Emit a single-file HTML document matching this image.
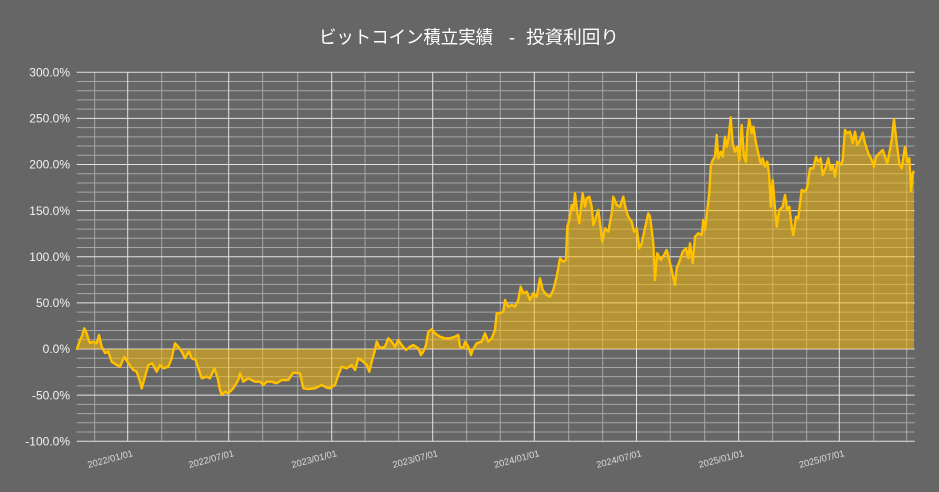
<!DOCTYPE html>
<html><head><meta charset="utf-8"><style>
html,body{margin:0;padding:0;background:#666666;}
svg{display:block;}
</style></head><body>
<svg width="939" height="492" viewBox="0 0 939 492" xmlns="http://www.w3.org/2000/svg">
<rect x="0" y="0" width="939" height="492" fill="#666666"/>
<g stroke="#a6a6a6" stroke-width="1">
<line x1="76.7" x2="914.7" y1="81.48" y2="81.48"/>
<line x1="76.7" x2="914.7" y1="90.70" y2="90.70"/>
<line x1="76.7" x2="914.7" y1="99.93" y2="99.93"/>
<line x1="76.7" x2="914.7" y1="109.15" y2="109.15"/>
<line x1="76.7" x2="914.7" y1="127.6" y2="127.6"/>
<line x1="76.7" x2="914.7" y1="136.83" y2="136.83"/>
<line x1="76.7" x2="914.7" y1="146.05" y2="146.05"/>
<line x1="76.7" x2="914.7" y1="155.28" y2="155.28"/>
<line x1="76.7" x2="914.7" y1="173.73" y2="173.73"/>
<line x1="76.7" x2="914.7" y1="182.95" y2="182.95"/>
<line x1="76.7" x2="914.7" y1="192.18" y2="192.18"/>
<line x1="76.7" x2="914.7" y1="201.4" y2="201.4"/>
<line x1="76.7" x2="914.7" y1="219.85" y2="219.85"/>
<line x1="76.7" x2="914.7" y1="229.08" y2="229.08"/>
<line x1="76.7" x2="914.7" y1="238.3" y2="238.3"/>
<line x1="76.7" x2="914.7" y1="247.53" y2="247.53"/>
<line x1="76.7" x2="914.7" y1="265.98" y2="265.98"/>
<line x1="76.7" x2="914.7" y1="275.2" y2="275.2"/>
<line x1="76.7" x2="914.7" y1="284.43" y2="284.43"/>
<line x1="76.7" x2="914.7" y1="293.65" y2="293.65"/>
<line x1="76.7" x2="914.7" y1="312.1" y2="312.1"/>
<line x1="76.7" x2="914.7" y1="321.33" y2="321.33"/>
<line x1="76.7" x2="914.7" y1="330.55" y2="330.55"/>
<line x1="76.7" x2="914.7" y1="339.78" y2="339.78"/>
<line x1="76.7" x2="914.7" y1="358.23" y2="358.23"/>
<line x1="76.7" x2="914.7" y1="367.45" y2="367.45"/>
<line x1="76.7" x2="914.7" y1="376.68" y2="376.68"/>
<line x1="76.7" x2="914.7" y1="385.9" y2="385.9"/>
<line x1="76.7" x2="914.7" y1="404.35" y2="404.35"/>
<line x1="76.7" x2="914.7" y1="413.58" y2="413.58"/>
<line x1="76.7" x2="914.7" y1="422.8" y2="422.8"/>
<line x1="76.7" x2="914.7" y1="432.03" y2="432.03"/>
<line y1="72.25" y2="441.25" x1="94.7" x2="94.7"/>
<line y1="72.25" y2="441.25" x1="161.7" x2="161.7"/>
<line y1="72.25" y2="441.25" x1="195.7" x2="195.7"/>
<line y1="72.25" y2="441.25" x1="262.7" x2="262.7"/>
<line y1="72.25" y2="441.25" x1="297.7" x2="297.7"/>
<line y1="72.25" y2="441.25" x1="365" x2="365"/>
<line y1="72.25" y2="441.25" x1="398.7" x2="398.7"/>
<line y1="72.25" y2="441.25" x1="466.7" x2="466.7"/>
<line y1="72.25" y2="441.25" x1="500.3" x2="500.3"/>
<line y1="72.25" y2="441.25" x1="568.7" x2="568.7"/>
<line y1="72.25" y2="441.25" x1="602.7" x2="602.7"/>
<line y1="72.25" y2="441.25" x1="670.3" x2="670.3"/>
<line y1="72.25" y2="441.25" x1="704.7" x2="704.7"/>
<line y1="72.25" y2="441.25" x1="772.7" x2="772.7"/>
<line y1="72.25" y2="441.25" x1="806.7" x2="806.7"/>
<line y1="72.25" y2="441.25" x1="873.7" x2="873.7"/>
<line y1="72.25" y2="441.25" x1="906.7" x2="906.7"/>
</g>
<g stroke="#e2e2e2" stroke-width="1">
<line y1="72.25" y2="441.25" x1="127.7" x2="127.7"/>
<line y1="72.25" y2="441.25" x1="228.7" x2="228.7"/>
<line y1="72.25" y2="441.25" x1="331.7" x2="331.7"/>
<line y1="72.25" y2="441.25" x1="432.7" x2="432.7"/>
<line y1="72.25" y2="441.25" x1="534.3" x2="534.3"/>
<line y1="72.25" y2="441.25" x1="636.5" x2="636.5"/>
<line y1="72.25" y2="441.25" x1="738.7" x2="738.7"/>
<line y1="72.25" y2="441.25" x1="839.3" x2="839.3"/>
<line x1="76.7" x2="914.7" y1="72.25" y2="72.25"/>
<line x1="76.7" x2="914.7" y1="118.38" y2="118.38"/>
<line x1="76.7" x2="914.7" y1="164.5" y2="164.5"/>
<line x1="76.7" x2="914.7" y1="210.63" y2="210.63"/>
<line x1="76.7" x2="914.7" y1="256.75" y2="256.75"/>
<line x1="76.7" x2="914.7" y1="302.88" y2="302.88"/>
<line x1="76.7" x2="914.7" y1="349" y2="349"/>
<line x1="76.7" x2="914.7" y1="395.13" y2="395.13"/>
<line x1="76.7" x2="914.7" y1="441.25" y2="441.25"/>
</g>
<polygon fill="#FFC000" fill-opacity="0.5" points="76.7,349 76.7,350 80,340 82,336 84.3,328.3 86.7,333.3 88,338 90,343 93.3,341.7 96.7,343.3 99,335 101.7,346.7 105,353 108.3,351.7 111.7,361.7 116.7,365 120,366.7 124.3,356.7 128.3,363.3 133.3,370 136.7,371.7 140,381.7 141.7,388.3 145,376.7 148.3,365 152.3,363.3 156.7,371.7 160,365 163.3,368.3 168.3,366.7 171.7,358.3 175,343.3 178.3,346.7 181.7,351.7 185,358.3 189,351.7 191.7,358.3 195.7,360 199,370 201.7,378.3 206.7,376.7 210,378.3 214.3,368.3 217.7,378.3 220,390 221.7,395 225,391.7 228.3,393.3 233.3,388.3 238.3,380 240,373.3 243.3,381.7 248.3,378.3 255,381.7 260,381.7 263.3,385 266.7,381.7 271.7,381.7 276.7,383.3 281.7,380 288.3,380 293.3,372.7 300,373.3 303.3,388.3 308.3,389 315,388.3 321.7,385 326.7,387.7 330,388.3 335,385 338.3,375 341.7,366.7 346.7,368.3 351.7,365 355,370 358.3,358.3 363.3,361.7 366.7,365 369.3,371.7 371.7,361.7 375,350 376.7,341.7 380,348.3 385,346.7 388.3,338.3 391.7,341.7 395,346.7 398.3,340 401.7,345 406,350 410,346.7 413.3,345 418.3,348.3 421,355 423.3,351.7 426,345 428.3,331.7 431.7,329.3 435,333.3 440,336.7 445,338.3 450,338.3 455,336.7 458.3,335 460,346.7 463.3,348.3 465,341.7 468.3,346.7 471,355 472.7,350 476.7,343.3 481.7,341.7 485,333.3 488.3,341.7 491.7,338.3 495,330 496.7,313.3 500,313.3 503.3,311.7 505,300 508.3,306.7 511.7,305 515,306.7 518.3,300 520.7,286.7 523.3,293.3 526.7,291.7 530,300 533.3,293.3 536.7,296.7 540,278.3 542.7,290 546.7,295 550,296.7 553.3,290 556.7,276.7 560,258.3 563.3,261.7 566,260 567.3,226.7 569.3,220 571.7,205 573.3,210 575,193.3 577.3,213.3 579.3,223.3 580.7,210 582.7,193.3 585,206.7 586.7,198.3 589.3,196.7 591.7,206.7 593.3,225 596,216.7 598.3,210 600,223.3 602.3,241.7 605,228.3 608.3,231.7 611.7,213.3 613.3,196.7 616.7,205 620,206.7 623.3,196.7 626,210 628.3,216.7 631.7,221.7 634,231.7 636.7,228.3 639.3,248.3 641.7,243.3 645,228.3 648.3,213.3 650,216.7 651.7,230 653.3,243.3 655,280 657.3,253.3 660.7,260 664,255 666.7,250 669.3,260 671.7,270 675,285 676.7,268.3 680,260 682.7,251.7 686,248.3 688.3,258.3 690,243.3 692.7,263.3 695,236.7 698.3,233.3 701.7,235 703.3,220 705,230 707.3,210 709.3,193.3 710.7,166.7 712.7,160 715,156.7 716.7,135 718.3,158.3 720.7,151.7 722.7,156.7 725,136.7 726.7,146.7 728.3,140 730.7,117.3 732.7,143.3 735,151.7 737.3,146.7 739.3,160 741.7,125 744,156.7 746,161.7 747.3,133.3 749.3,119.3 751.7,133.3 753.3,126.7 756,143.3 758.3,153.3 760.7,163.3 762.7,158.3 765,166.7 767.3,161.7 769.3,176.7 770.7,206.7 772.7,180 775,208.3 776.7,226.7 779.3,210 782.7,206.7 785,195 787.3,210 789.3,206.7 791.7,226.7 793.3,235 796,216.7 798.3,218.3 800,203.3 801.7,190 805,191.7 807.3,186.7 810,168.3 813.3,168.3 816,156.7 818.3,161.7 820.7,158.3 822.7,175 826,166.7 828.3,158.3 830.7,170 832.7,165 835,176.7 837.3,161.7 840.7,165 842.7,160 845,130 847.3,133.3 850,131.7 852.7,143.3 855,131.7 857.3,145 860,140 862.7,132.7 865,143.3 868.3,153.3 871.7,160 874,166.7 876,156.7 879.3,153.3 882.7,150 885,156.7 887.3,163.3 889.3,153.3 891.7,140 894,119.3 896.7,143.3 899.3,163.3 901.7,168.3 905,146.7 907.3,161.7 909.3,158.3 911,191 912.7,173.3 914,171 914,349"/>
<polyline fill="none" stroke="#FFC000" stroke-width="2.4" stroke-linejoin="round" points="76.7,350 80,340 82,336 84.3,328.3 86.7,333.3 88,338 90,343 93.3,341.7 96.7,343.3 99,335 101.7,346.7 105,353 108.3,351.7 111.7,361.7 116.7,365 120,366.7 124.3,356.7 128.3,363.3 133.3,370 136.7,371.7 140,381.7 141.7,388.3 145,376.7 148.3,365 152.3,363.3 156.7,371.7 160,365 163.3,368.3 168.3,366.7 171.7,358.3 175,343.3 178.3,346.7 181.7,351.7 185,358.3 189,351.7 191.7,358.3 195.7,360 199,370 201.7,378.3 206.7,376.7 210,378.3 214.3,368.3 217.7,378.3 220,390 221.7,395 225,391.7 228.3,393.3 233.3,388.3 238.3,380 240,373.3 243.3,381.7 248.3,378.3 255,381.7 260,381.7 263.3,385 266.7,381.7 271.7,381.7 276.7,383.3 281.7,380 288.3,380 293.3,372.7 300,373.3 303.3,388.3 308.3,389 315,388.3 321.7,385 326.7,387.7 330,388.3 335,385 338.3,375 341.7,366.7 346.7,368.3 351.7,365 355,370 358.3,358.3 363.3,361.7 366.7,365 369.3,371.7 371.7,361.7 375,350 376.7,341.7 380,348.3 385,346.7 388.3,338.3 391.7,341.7 395,346.7 398.3,340 401.7,345 406,350 410,346.7 413.3,345 418.3,348.3 421,355 423.3,351.7 426,345 428.3,331.7 431.7,329.3 435,333.3 440,336.7 445,338.3 450,338.3 455,336.7 458.3,335 460,346.7 463.3,348.3 465,341.7 468.3,346.7 471,355 472.7,350 476.7,343.3 481.7,341.7 485,333.3 488.3,341.7 491.7,338.3 495,330 496.7,313.3 500,313.3 503.3,311.7 505,300 508.3,306.7 511.7,305 515,306.7 518.3,300 520.7,286.7 523.3,293.3 526.7,291.7 530,300 533.3,293.3 536.7,296.7 540,278.3 542.7,290 546.7,295 550,296.7 553.3,290 556.7,276.7 560,258.3 563.3,261.7 566,260 567.3,226.7 569.3,220 571.7,205 573.3,210 575,193.3 577.3,213.3 579.3,223.3 580.7,210 582.7,193.3 585,206.7 586.7,198.3 589.3,196.7 591.7,206.7 593.3,225 596,216.7 598.3,210 600,223.3 602.3,241.7 605,228.3 608.3,231.7 611.7,213.3 613.3,196.7 616.7,205 620,206.7 623.3,196.7 626,210 628.3,216.7 631.7,221.7 634,231.7 636.7,228.3 639.3,248.3 641.7,243.3 645,228.3 648.3,213.3 650,216.7 651.7,230 653.3,243.3 655,280 657.3,253.3 660.7,260 664,255 666.7,250 669.3,260 671.7,270 675,285 676.7,268.3 680,260 682.7,251.7 686,248.3 688.3,258.3 690,243.3 692.7,263.3 695,236.7 698.3,233.3 701.7,235 703.3,220 705,230 707.3,210 709.3,193.3 710.7,166.7 712.7,160 715,156.7 716.7,135 718.3,158.3 720.7,151.7 722.7,156.7 725,136.7 726.7,146.7 728.3,140 730.7,117.3 732.7,143.3 735,151.7 737.3,146.7 739.3,160 741.7,125 744,156.7 746,161.7 747.3,133.3 749.3,119.3 751.7,133.3 753.3,126.7 756,143.3 758.3,153.3 760.7,163.3 762.7,158.3 765,166.7 767.3,161.7 769.3,176.7 770.7,206.7 772.7,180 775,208.3 776.7,226.7 779.3,210 782.7,206.7 785,195 787.3,210 789.3,206.7 791.7,226.7 793.3,235 796,216.7 798.3,218.3 800,203.3 801.7,190 805,191.7 807.3,186.7 810,168.3 813.3,168.3 816,156.7 818.3,161.7 820.7,158.3 822.7,175 826,166.7 828.3,158.3 830.7,170 832.7,165 835,176.7 837.3,161.7 840.7,165 842.7,160 845,130 847.3,133.3 850,131.7 852.7,143.3 855,131.7 857.3,145 860,140 862.7,132.7 865,143.3 868.3,153.3 871.7,160 874,166.7 876,156.7 879.3,153.3 882.7,150 885,156.7 887.3,163.3 889.3,153.3 891.7,140 894,119.3 896.7,143.3 899.3,163.3 901.7,168.3 905,146.7 907.3,161.7 909.3,158.3 911,191 912.7,173.3 914,171"/>
<g font-family="'Liberation Sans', sans-serif" font-size="12" fill="#f2f2f2" text-anchor="end">
<text x="70" y="76.5">300.0%</text>
<text x="70" y="122.6">250.0%</text>
<text x="70" y="168.7">200.0%</text>
<text x="70" y="214.8">150.0%</text>
<text x="70" y="261">100.0%</text>
<text x="70" y="307.1">50.0%</text>
<text x="70" y="353.2">0.0%</text>
<text x="70" y="399.3">-50.0%</text>
<text x="70" y="445.5">-100.0%</text>
</g>
<g font-family="'Liberation Sans', sans-serif" font-size="9.3" fill="#dcdcdc" text-anchor="end">
<text transform="translate(133.5,456) rotate(-15)">2022/01/01</text>
<text transform="translate(234.5,456) rotate(-15)">2022/07/01</text>
<text transform="translate(337.5,456) rotate(-15)">2023/01/01</text>
<text transform="translate(438.5,456) rotate(-15)">2023/07/01</text>
<text transform="translate(540,456) rotate(-15)">2024/01/01</text>
<text transform="translate(642.3,456) rotate(-15)">2024/07/01</text>
<text transform="translate(744.5,456) rotate(-15)">2025/01/01</text>
<text transform="translate(845,456) rotate(-15)">2025/07/01</text>
</g>
<g font-family="'Liberation Sans', 'Noto Sans CJK JP', sans-serif" font-size="18" fill="#ffffff">
<text x="319" y="43.5" textLength="174" lengthAdjust="spacingAndGlyphs">ビットコイン積立実績</text>
<text x="512" y="43.5" text-anchor="middle">-</text>
<text x="526" y="43.5" textLength="93" lengthAdjust="spacingAndGlyphs">投資利回り</text>
</g>
</svg>
</body></html>
